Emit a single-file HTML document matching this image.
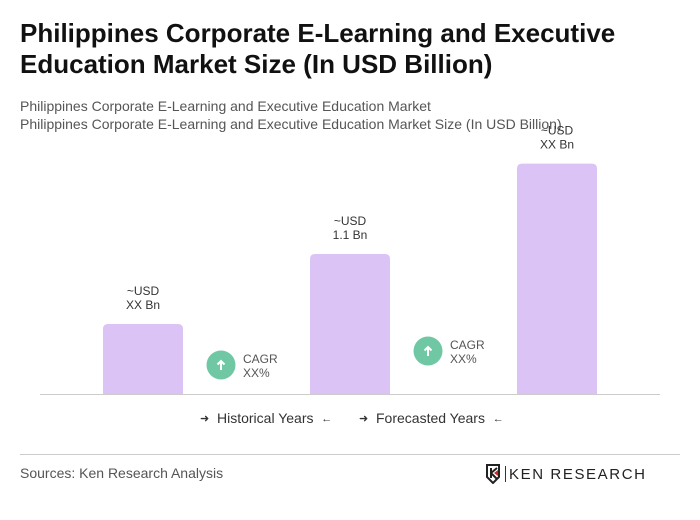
<!DOCTYPE html>
<html><head><meta charset="utf-8"><style>
body{margin:0;width:700px;height:520px;background:#fff;font-family:"Liberation Sans",sans-serif;position:relative;overflow:hidden}
.abs{position:absolute}
h1{position:absolute;left:20px;top:18px;margin:0;font-size:26px;line-height:31px;font-weight:bold;color:#111;width:660px}
.sub{left:20px;font-size:14px;color:#555}
.arr{font-size:11px;vertical-align:1px}
</style></head><body>
<h1>Philippines Corporate E-Learning and Executive Education Market Size (In USD Billion)</h1>
<div class="abs sub" style="top:98px">Philippines Corporate E-Learning and Executive Education Market</div>
<div class="abs sub" style="top:116px">Philippines Corporate E-Learning and Executive Education Market Size (In USD Billion)</div>
<svg class="abs" style="left:0;top:0" width="700" height="520" id="chart">
<line x1="40" y1="394.5" x2="660" y2="394.5" stroke="#ccc"/>
</svg>
<div class="abs" style="left:200px;top:410px;font-size:14px;color:#333"><span class="arr">➜</span>&nbsp; Historical Years &nbsp;<span class="arr">←</span></div>
<div class="abs" style="left:359px;top:410px;font-size:14px;color:#333"><span class="arr">➜</span>&nbsp; Forecasted Years &nbsp;<span class="arr">←</span></div>
<div class="abs" style="left:20px;top:454px;width:660px;border-top:1px solid #ccc"></div>
<div class="abs" style="left:20px;top:465px;font-size:14px;color:#555">Sources: Ken Research Analysis</div>
<div class="abs" style="left:486px;top:464px;font-size:15px;letter-spacing:1.6px;color:#222;display:flex;align-items:center">
<svg width="16" height="20" viewBox="0 0 16 20"><path d="M1 1h12v12l-6 6-6-6z" fill="none" stroke="#222" stroke-width="2"/><path d="M5 4v10M5 9l6-5M5 9l6 6" stroke="#222" stroke-width="2" fill="none"/><path d="M8 9l4-3v6z" fill="#d22"/></svg>
<span style="border-left:1px solid #333;height:16px;margin:0 3px"></span><span>KEN RESEARCH</span></div>
<script>
const categories=["Hist","Mid","Forecast"];
const values=[0.55,1.1,1.81];
const labels=["~USD\nXX Bn","~USD\n1.1 Bn","~USD\nXX Bn"];
const cagrLabels=["CAGR\nXX%","CAGR\nXX%"];
const svg=document.getElementById('chart');const NS='http://www.w3.org/2000/svg';
const base=394,scale=140/1.1,bw=80;
const xPos=i=>103+i*207;
const y=v=>base-v*scale;
function mk(t,a){const e=document.createElementNS(NS,t);for(const k in a)e.setAttribute(k,a[k]);svg.appendChild(e);return e;}
values.forEach((v,i)=>{
 const r=mk('path',{d:`M${xPos(i)} ${base}V${y(v)+5}q0 -5 5 -5h${bw-10}q5 0 5 5V${base}z`,fill:'#dcc3f6'});
 
 
 labels[i].split('\n').forEach((l,j)=>{const t=mk('text',{x:xPos(i)+bw/2,y:y(v)-29+j*14,'text-anchor':'middle','font-size':12,fill:'#333'});t.textContent=l;
 
 });
});
cagrLabels.forEach((c,i)=>{
 const cx=221+i*207,cy=i==0?365:351;
 const g=mk('circle',{cx:cx,cy:cy,r:14.5,fill:'#6fc8a3'});
 
 
 mk('path',{d:`M${cx} ${cy+5}V${cy-4}M${cx-3.5} ${cy-0.5}L${cx} ${cy-4}L${cx+3.5} ${cy-0.5}`,stroke:'#fff','stroke-width':2,fill:'none'});
 c.split('\n').forEach((l,j)=>{const t=mk('text',{x:cx+22,y:cy-2+j*14,'font-size':12,fill:'#555'});t.textContent=l;
 
 });
});
</script>
</body></html>
